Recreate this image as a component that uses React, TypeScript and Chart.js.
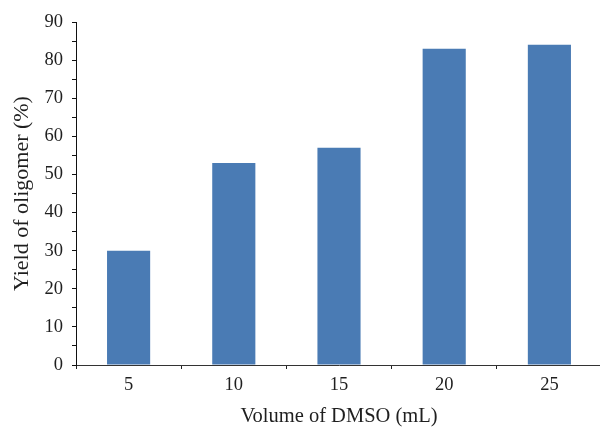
import React, { useEffect, useRef } from 'react';
import { Chart, registerables } from 'chart.js';

Chart.register(...registerables);

const categories = ['5', '10', '15', '20', '25'];
const yieldValues = [30, 53, 57, 83, 84];
const yMin = 0;
const yMax = 90;
const yStep = 5;
const yLabelStep = 10;
const xTitle = 'Volume of DMSO (mL)';
const yTitle = 'Yield of oligomer (%)';

const FONT = '"Liberation Serif", "Times New Roman", serif';
const INK = '#1f1f1f';

export default function App() {
  const ref = useRef<HTMLCanvasElement>(null);

  useEffect(() => {
    document.body.style.margin = '0';
    const chart = new Chart(ref.current!, {
      type: 'bar',
      data: {
        labels: categories,
        datasets: [
          {
            data: yieldValues,
            backgroundColor: '#4a7bb4',
            borderWidth: 0,
            barPercentage: 0.41,
            categoryPercentage: 1,
          },
        ],
      },
      options: {
        responsive: false,
        animation: false,
        devicePixelRatio: 1,
        layout: { padding: { top: 22, right: 1, left: 0, bottom: 0 } },
        plugins: { legend: { display: false }, tooltip: { enabled: false } },
        scales: {
          x: {
            offset: true,
            grid: {
              offset: true,
              drawOnChartArea: false,
              drawTicks: true,
              tickLength: 4,
              color: '#222',
            },
            border: { display: true, color: '#333', width: 1 },
            ticks: {
              color: INK,
              font: { family: FONT, size: 18.5 },
              padding: 5,
            },
            title: {
              display: true,
              text: xTitle,
              color: INK,
              font: { family: FONT, size: 20.5, lineHeight: 1 },
              padding: { top: 0, bottom: 0 },
            },
            afterFit: (s: any) => {
              s.height = 62;
            },
          },
          y: {
            min: yMin,
            max: yMax,
            grid: {
              drawOnChartArea: false,
              drawTicks: true,
              tickLength: 4,
              color: '#111',
            },
            border: { display: true, color: '#111', width: 1 },
            ticks: {
              stepSize: yStep,
              autoSkip: false,
              color: INK,
              font: { family: FONT, size: 18.5 },
              padding: 9,
              callback: (v: any) => (Number(v) % yLabelStep === 0 ? String(v) : ''),
            },
            title: {
              display: true,
              text: yTitle,
              color: INK,
              font: { family: FONT, size: 22, lineHeight: 1.2 },
              padding: { top: 9, bottom: 0 },
            },
            afterFit: (s: any) => {
              s.width = 76;
            },
          },
        },
      },
    });
    return () => chart.destroy();
  }, []);

  return (
    <div
      style={{
        position: 'fixed',
        left: 0,
        top: 0,
        width: 600,
        height: 427,
        overflow: 'hidden',
        background: '#fff',
      }}
    >
      <canvas ref={ref} width={603} height={427} style={{ display: 'block' }} />
    </div>
  );
}
